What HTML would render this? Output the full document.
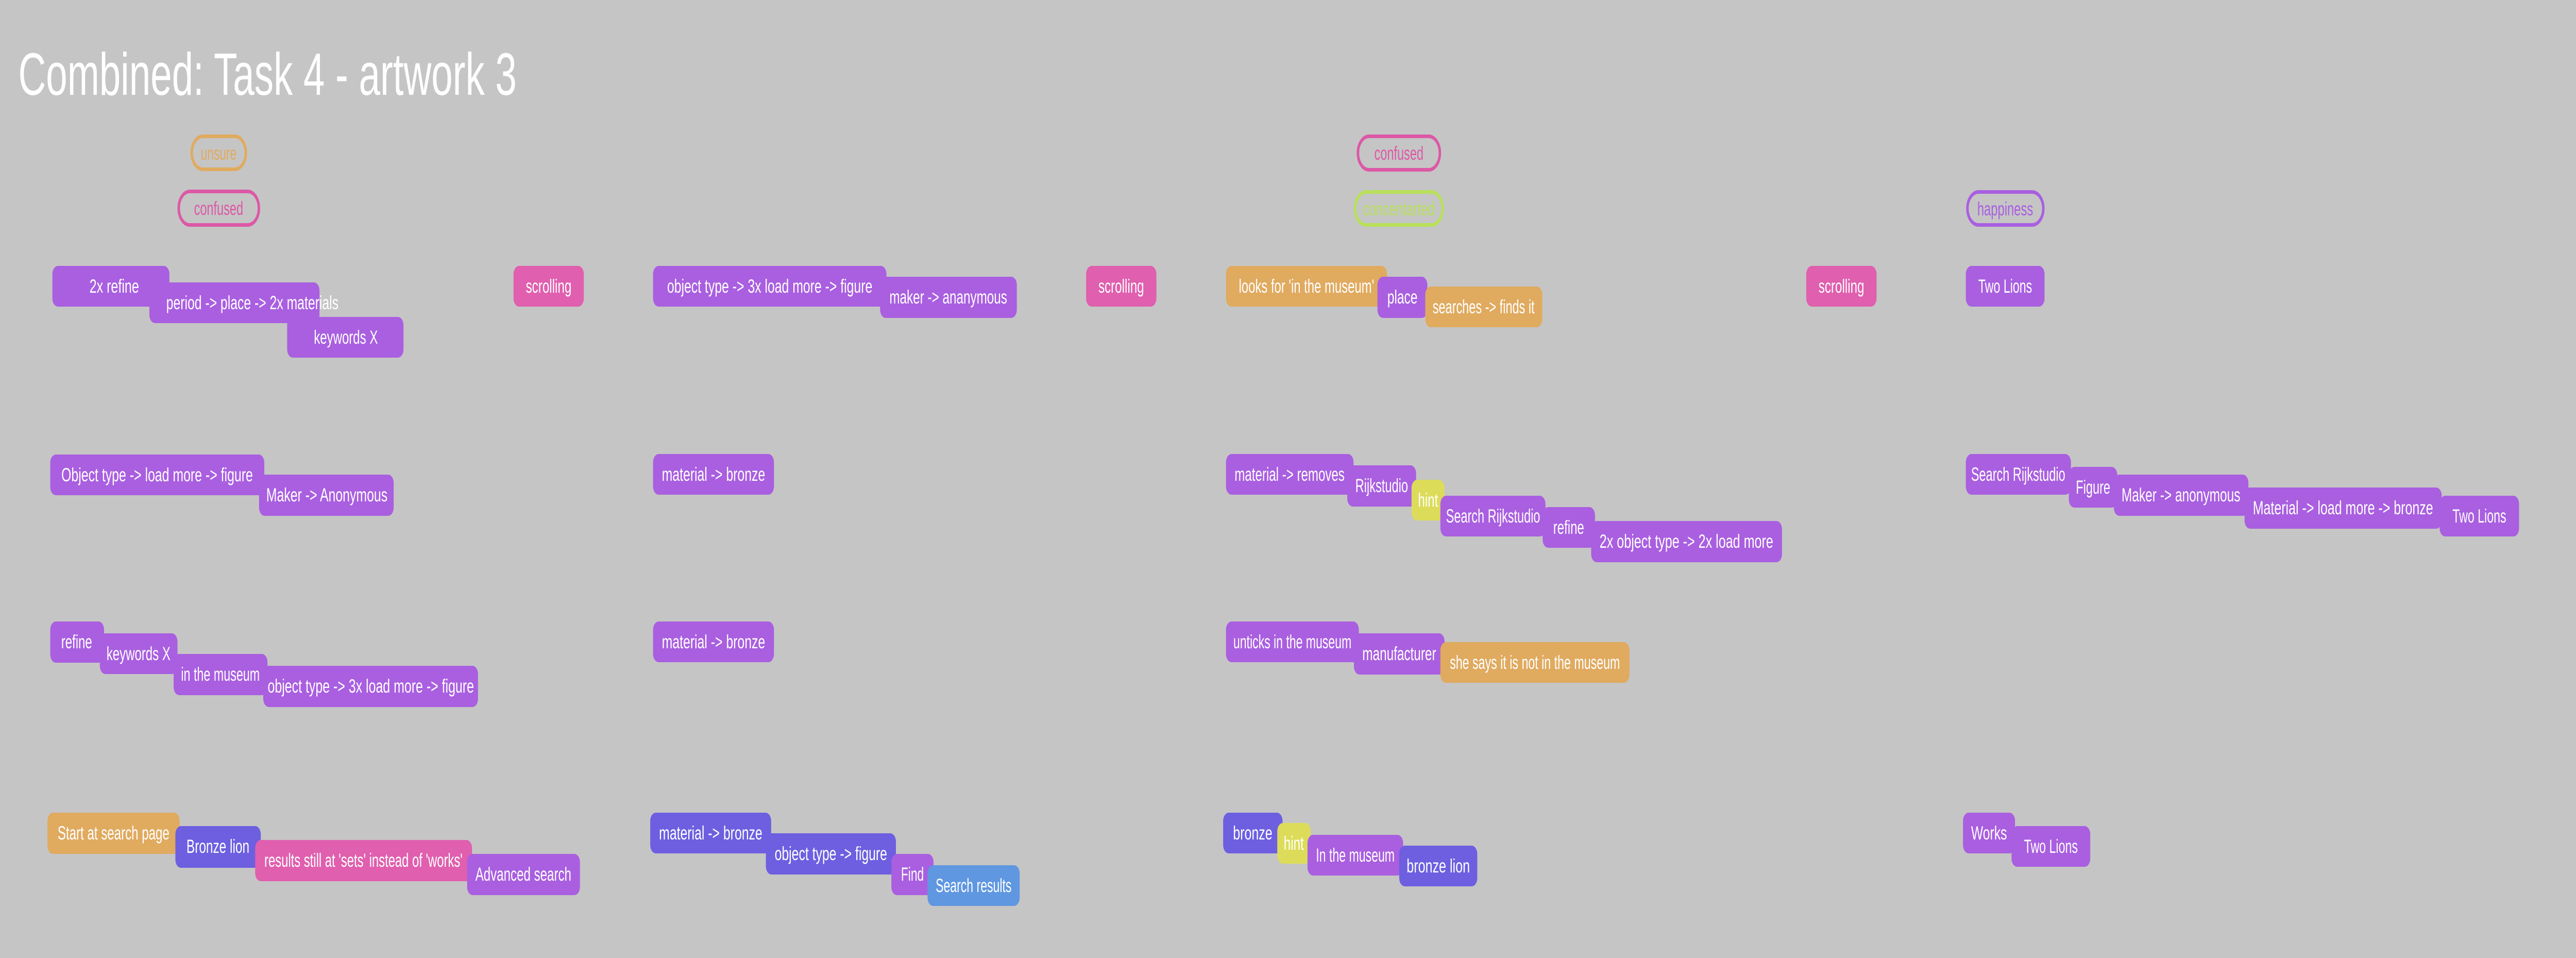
<!DOCTYPE html>
<html><head><meta charset="utf-8"><style>
html,body{margin:0;padding:0;background:#c5c5c5;overflow:hidden}
svg{display:block;width:100vw;height:100vh}
text{font-family:"Liberation Sans",sans-serif}
.t{fill:#fff;font-size:37px;text-anchor:middle}
.p{fill:#a95fe0}.k{fill:#e05fae}.o{fill:#e0aa5f}.v{fill:#6d5fe0}.l{fill:#5f97e0}.y{fill:#dcdc5a}
</style></head><body>
<svg viewBox="0 0 7329 1859" preserveAspectRatio="none" xmlns="http://www.w3.org/2000/svg">
<rect width="7329" height="1859" fill="#c5c5c5"/>
<text x="52" y="184" font-size="116" fill="#fff" textLength="1418" lengthAdjust="spacingAndGlyphs">Combined: Task 4 - artwork 3</text>

<g fill="none" stroke-width="7">
<rect x="545.5" y="264.5" width="154" height="64" rx="32" stroke="#e0aa5f"/>
<rect x="508.5" y="371.5" width="228" height="65" rx="32" stroke="#dc58a6"/>
<rect x="3863.5" y="264.5" width="233" height="65" rx="32" stroke="#dc58a6"/>
<rect x="3855.5" y="372.5" width="249" height="64" rx="32" stroke="#b8e05a"/>
<rect x="5597.5" y="372.5" width="216" height="64" rx="32" stroke="#a95fe0"/>
</g>
<g font-size="37" text-anchor="middle" style="text-anchor:middle">
<text x="622" y="310" fill="#e0aa5f" textLength="102" lengthAdjust="spacingAndGlyphs">unsure</text>
<text x="622" y="417" fill="#dc58a6" textLength="140" lengthAdjust="spacingAndGlyphs">confused</text>
<text x="3980" y="310" fill="#dc58a6" textLength="140" lengthAdjust="spacingAndGlyphs">confused</text>
<text x="3980" y="418" fill="#b8e05a" textLength="205" lengthAdjust="spacingAndGlyphs">concentarted</text>
<text x="5705" y="418" fill="#a95fe0" textLength="159" lengthAdjust="spacingAndGlyphs">happiness</text>
</g>

<!-- column 1 -->
<rect class="p" x="149" y="516" width="333" height="79" rx="16"/><text class="t" x="325" y="568" textLength="141" lengthAdjust="spacingAndGlyphs">2x refine</text>
<rect class="p" x="425" y="548" width="484" height="79" rx="16"/><text class="t" x="718" y="600" textLength="490" lengthAdjust="spacingAndGlyphs">period -&gt; place -&gt; 2x materials</text>
<rect class="p" x="817" y="615" width="331" height="79" rx="16"/><text class="t" x="984" y="667" textLength="182" lengthAdjust="spacingAndGlyphs">keywords X</text>
<rect class="k" x="1461" y="516" width="200" height="79" rx="16"/><text class="t" x="1561" y="568" textLength="130" lengthAdjust="spacingAndGlyphs">scrolling</text>

<rect class="p" x="143" y="882" width="609" height="79" rx="16"/><text class="t" x="447" y="934" textLength="545" lengthAdjust="spacingAndGlyphs">Object type -&gt; load more -&gt; figure</text>
<rect class="p" x="737" y="921" width="383" height="80" rx="16"/><text class="t" x="930" y="973" textLength="345" lengthAdjust="spacingAndGlyphs">Maker -&gt; Anonymous</text>

<rect class="p" x="143" y="1206" width="153" height="80" rx="16"/><text class="t" x="218" y="1258" textLength="88" lengthAdjust="spacingAndGlyphs">refine</text>
<rect class="p" x="284" y="1229" width="221" height="79" rx="16"/><text class="t" x="394" y="1281" textLength="182" lengthAdjust="spacingAndGlyphs">keywords X</text>
<rect class="p" x="494" y="1269" width="267" height="80" rx="16"/><text class="t" x="627" y="1321" textLength="224" lengthAdjust="spacingAndGlyphs">in the museum</text>
<rect class="p" x="749" y="1292" width="611" height="80" rx="16"/><text class="t" x="1055" y="1344" textLength="587" lengthAdjust="spacingAndGlyphs">object type -&gt; 3x load more -&gt; figure</text>

<rect class="o" x="135" y="1577" width="376" height="80" rx="16"/><text class="t" x="323" y="1629" textLength="318" lengthAdjust="spacingAndGlyphs">Start at search page</text>
<rect class="v" x="499" y="1603" width="243" height="81" rx="16"/><text class="t" x="620" y="1655" textLength="179" lengthAdjust="spacingAndGlyphs">Bronze lion</text>
<rect class="k" x="726" y="1630" width="617" height="80" rx="16"/><text class="t" x="1034" y="1682" textLength="564" lengthAdjust="spacingAndGlyphs">results still at 'sets' instead of 'works'</text>
<rect class="p" x="1329" y="1657" width="321" height="80" rx="16"/><text class="t" x="1489" y="1709" textLength="273" lengthAdjust="spacingAndGlyphs">Advanced search</text>

<!-- column 2 -->
<rect class="p" x="1858" y="516" width="664" height="79" rx="16"/><text class="t" x="2190" y="568" textLength="584" lengthAdjust="spacingAndGlyphs">object type -&gt; 3x load more -&gt; figure</text>
<rect class="p" x="2504" y="537" width="389" height="80" rx="16"/><text class="t" x="2698" y="589" textLength="335" lengthAdjust="spacingAndGlyphs">maker -&gt; ananymous</text>
<rect class="k" x="3090" y="516" width="200" height="79" rx="16"/><text class="t" x="3190" y="568" textLength="130" lengthAdjust="spacingAndGlyphs">scrolling</text>
<rect class="p" x="1858" y="881" width="344" height="79" rx="16"/><text class="t" x="2030" y="933" textLength="294" lengthAdjust="spacingAndGlyphs">material -&gt; bronze</text>
<rect class="p" x="1858" y="1206" width="344" height="79" rx="16"/><text class="t" x="2030" y="1258" textLength="294" lengthAdjust="spacingAndGlyphs">material -&gt; bronze</text>
<rect class="v" x="1850" y="1577" width="344" height="79" rx="16"/><text class="t" x="2022" y="1629" textLength="294" lengthAdjust="spacingAndGlyphs">material -&gt; bronze</text>
<rect class="v" x="2179" y="1617" width="370" height="80" rx="16"/><text class="t" x="2364" y="1669" textLength="320" lengthAdjust="spacingAndGlyphs">object type -&gt; figure</text>
<rect class="p" x="2536" y="1657" width="120" height="80" rx="16"/><text class="t" x="2596" y="1709" textLength="65" lengthAdjust="spacingAndGlyphs">Find</text>
<rect class="l" x="2639" y="1679" width="262" height="79" rx="16"/><text class="t" x="2770" y="1731" textLength="216" lengthAdjust="spacingAndGlyphs">Search results</text>

<!-- column 3 -->
<rect class="o" x="3488" y="516" width="458" height="79" rx="16"/><text class="t" x="3717" y="568" textLength="385" lengthAdjust="spacingAndGlyphs">looks for 'in the museum'</text>
<rect class="p" x="3919" y="537" width="142" height="80" rx="16"/><text class="t" x="3990" y="589" textLength="86" lengthAdjust="spacingAndGlyphs">place</text>
<rect class="o" x="4055" y="556" width="333" height="79" rx="16"/><text class="t" x="4221" y="608" textLength="290" lengthAdjust="spacingAndGlyphs">searches -&gt; finds it</text>
<rect class="k" x="5139" y="516" width="200" height="79" rx="16"/><text class="t" x="5239" y="568" textLength="130" lengthAdjust="spacingAndGlyphs">scrolling</text>

<rect class="p" x="3488" y="881" width="363" height="79" rx="16"/><text class="t" x="3669" y="933" textLength="313" lengthAdjust="spacingAndGlyphs">material -&gt; removes</text>
<rect class="p" x="3833" y="903" width="196" height="80" rx="16"/><text class="t" x="3931" y="955" textLength="150" lengthAdjust="spacingAndGlyphs">Rijkstudio</text>
<rect class="y" x="4016" y="931" width="94" height="79" rx="16"/><text class="t" x="4063" y="983" textLength="57" lengthAdjust="spacingAndGlyphs">hint</text>
<rect class="p" x="4098" y="962" width="299" height="79" rx="16"/><text class="t" x="4248" y="1014" textLength="268" lengthAdjust="spacingAndGlyphs">Search Rijkstudio</text>
<rect class="p" x="4389" y="984" width="149" height="79" rx="16"/><text class="t" x="4463" y="1036" textLength="88" lengthAdjust="spacingAndGlyphs">refine</text>
<rect class="p" x="4527" y="1011" width="543" height="80" rx="16"/><text class="t" x="4798" y="1063" textLength="494" lengthAdjust="spacingAndGlyphs">2x object type -&gt; 2x load more</text>

<rect class="p" x="3488" y="1206" width="378" height="79" rx="16"/><text class="t" x="3677" y="1258" textLength="336" lengthAdjust="spacingAndGlyphs">unticks in the museum</text>
<rect class="p" x="3852" y="1229" width="258" height="80" rx="16"/><text class="t" x="3981" y="1281" textLength="210" lengthAdjust="spacingAndGlyphs">manufacturer</text>
<rect class="o" x="4098" y="1246" width="538" height="79" rx="16"/><text class="t" x="4367" y="1298" textLength="484" lengthAdjust="spacingAndGlyphs">she says it is not in the museum</text>

<rect class="v" x="3480" y="1577" width="169" height="79" rx="16"/><text class="t" x="3564" y="1629" textLength="112" lengthAdjust="spacingAndGlyphs">bronze</text>
<rect class="y" x="3634" y="1597" width="95" height="79" rx="16"/><text class="t" x="3681" y="1649" textLength="57" lengthAdjust="spacingAndGlyphs">hint</text>
<rect class="p" x="3720" y="1620" width="272" height="79" rx="16"/><text class="t" x="3856" y="1672" textLength="224" lengthAdjust="spacingAndGlyphs">In the museum</text>
<rect class="v" x="3981" y="1641" width="222" height="79" rx="16"/><text class="t" x="4092" y="1693" textLength="180" lengthAdjust="spacingAndGlyphs">bronze lion</text>

<!-- column 4 -->
<rect class="p" x="5593" y="516" width="224" height="79" rx="16"/><text class="t" x="5705" y="568" textLength="153" lengthAdjust="spacingAndGlyphs">Two Lions</text>
<rect class="p" x="5593" y="881" width="299" height="79" rx="16"/><text class="t" x="5742" y="933" textLength="268" lengthAdjust="spacingAndGlyphs">Search Rijkstudio</text>
<rect class="p" x="5886" y="906" width="138" height="79" rx="16"/><text class="t" x="5955" y="958" textLength="98" lengthAdjust="spacingAndGlyphs">Figure</text>
<rect class="p" x="6014" y="921" width="383" height="80" rx="16"/><text class="t" x="6205" y="973" textLength="338" lengthAdjust="spacingAndGlyphs">Maker -&gt; anonymous</text>
<rect class="p" x="6386" y="946" width="561" height="80" rx="16"/><text class="t" x="6666" y="998" textLength="513" lengthAdjust="spacingAndGlyphs">Material -&gt; load more -&gt; bronze</text>
<rect class="p" x="6941" y="962" width="226" height="79" rx="16"/><text class="t" x="7054" y="1014" textLength="153" lengthAdjust="spacingAndGlyphs">Two Lions</text>
<rect class="p" x="5585" y="1577" width="148" height="79" rx="16"/><text class="t" x="5659" y="1629" textLength="102" lengthAdjust="spacingAndGlyphs">Works</text>
<rect class="p" x="5723" y="1603" width="224" height="79" rx="16"/><text class="t" x="5835" y="1655" textLength="153" lengthAdjust="spacingAndGlyphs">Two Lions</text>
</svg>
</body></html>
